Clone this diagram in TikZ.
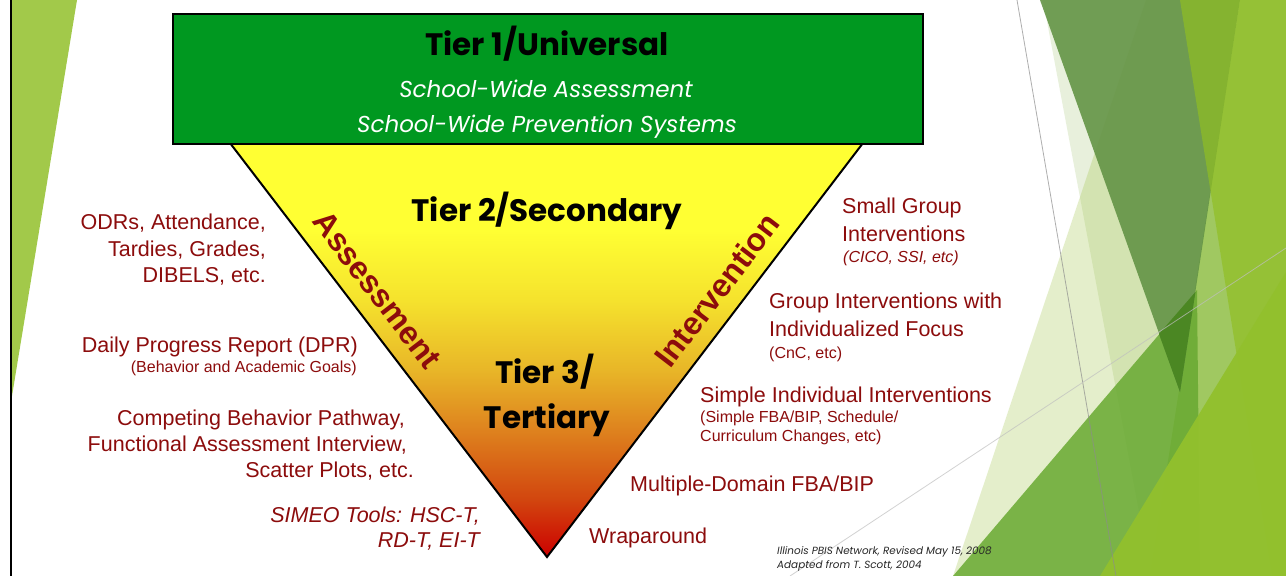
\documentclass[tikz,border=0pt]{standalone}
\usepackage{fontspec}
\setmainfont{Liberation Sans}
\newfontfamily\gothic{Poppins}
\definecolor{labelred}{RGB}{140,12,12}
\definecolor{tiergreen}{RGB}{0,152,32}
\definecolor{slivergreen}{RGB}{162,201,74}
\definecolor{paleA}{RGB}{120,170,50}
\definecolor{paleB}{RGB}{150,190,50}
\definecolor{darkD}{RGB}{100,148,70}
\definecolor{medG}{RGB}{104,169,49}
\definecolor{limeM}{RGB}{148,194,77}
\definecolor{limeN}{RGB}{145,191,34}
\definecolor{limeL}{RGB}{146,192,45}
\definecolor{wedgegreen}{RGB}{75,135,35}
\definecolor{triA}{RGB}{204,0,0}
\definecolor{triB}{RGB}{210,70,15}
\definecolor{triC}{RGB}{222,130,30}
\definecolor{triD}{RGB}{232,182,40}
\definecolor{triE}{RGB}{245,226,45}
\definecolor{triF}{RGB}{255,255,51}
\pgfdeclareverticalshading{tiershade}{100bp}{color(0bp)=(triA); color(25bp)=(triA); color(32bp)=(triB); color(40.3bp)=(triC); color(47.6bp)=(triD); color(56bp)=(triE); color(64.5bp)=(triF); color(75bp)=(triF); color(100bp)=(triF)}
\tikzset{
  lbl/.style={inner sep=0pt, text=labelred, font=\fontsize{21.5}{26}\selectfont},
  lblit/.style={inner sep=0pt, text=labelred, font=\fontsize{21.5}{26}\selectfont\itshape},
  lblsmall/.style={inner sep=0pt, text=labelred, font=\fontsize{16}{19}\selectfont},
  lblsmallit/.style={inner sep=0pt, text=labelred, font=\fontsize{16}{19}\selectfont\itshape},
  tiertitle/.style={inner sep=0pt, text=black, font=\gothic\bfseries\fontsize{31}{36}\selectfont},
  tiersub/.style={inner sep=0pt, text=white, font=\gothic\itshape\fontsize{23}{28}\selectfont},
  sidelabel/.style={inner sep=0pt, text=labelred, font=\bfseries\fontsize{32}{36}\selectfont},
  credit/.style={inner sep=0pt, text=black!85, font=\gothic\itshape\fontsize{10.4}{12}\selectfont},
  thinline/.style={line width=0.8pt},
}
\begin{document}
\begin{tikzpicture}[x=1pt,y=-1pt]
\useasboundingbox (0,0) rectangle (1286,576);
\fill[white] (0,0) rectangle (1286,576);
% left decoration
\fill[slivergreen] (12,0) -- (77,0) -- (12,396) -- cycle;
\draw[line width=2.2pt] (10.8,0) -- (10.8,576);
% right decoration (overlapping translucent facets)
\fill[paleA, opacity=0.17] (1043,0) -- (1286,0) -- (1286,576) -- (1151,576) -- cycle;
\fill[paleB, opacity=0.25] (1146,0) -- (1286,0) -- (1286,576) -- (953,576) -- cycle;
\fill[limeM, opacity=0.8] (1240,0) -- (1286,0) -- (1286,576) -- (1150,576) -- cycle;
\fill[medG, opacity=0.85] (953,576) -- (1197,290) -- (1200,576) -- cycle;
\fill[darkD, opacity=0.9] (1040,0) -- (1240,0) -- (1180,392) -- cycle;
\fill[wedgegreen] (1159,334) -- (1195.4,292) -- (1180,392) -- cycle;
\fill[limeN, opacity=0.68] (1180,0) -- (1286,0) -- (1286,576) -- (1272,576) -- cycle;
\fill[limeL, opacity=0.95] (1100,576) -- (1286,272) -- (1286,576) -- cycle;
\draw[thinline, black!45, opacity=0.7] (1017,0) -- (1116,576);
\draw[thinline, black!25, opacity=0.7] (790,576) -- (1286,248);
% triangle and tier-1 box
\path[shading=tiershade, draw=black, line width=2pt, line join=miter] (230,143) -- (863,143) -- (547,557) -- cycle;
\node[draw=black, line width=2pt, fill=tiergreen, minimum width=750pt, minimum height=130pt, inner sep=0pt, anchor=north west] (box) at (172,13) {};
\node[tiertitle, anchor=base] (t1) at (547,55) {Tier 1/Universal};
\node[tiersub, anchor=base] (t1a) at (546,97) {School-Wide Assessment};
\node[tiersub, anchor=base] (t1b) at (547,132) {School-Wide Prevention Systems};
\node[tiertitle, anchor=base] (t2) at (547,221) {Tier 2/Secondary};
\node[tiertitle, anchor=base] (t3a) at (545,383) {Tier 3/};
\node[tiertitle, anchor=base] (t3b) at (547,428) {Tertiary};
\node[sidelabel, rotate=-52.6] (assess) at (377,290) {Assessment};
\node[sidelabel, rotate=52.6] (interv) at (717,290) {Intervention};
% left labels
\node[lbl, anchor=base east] (l1a) at (266,229) {ODRs, Attendance,};
\node[lbl, anchor=base east] (l1b) at (266,256) {Tardies, Grades,};
\node[lbl, anchor=base east] (l1c) at (266,282) {DIBELS, etc.};
\node[lbl, anchor=base east] (l2a) at (358,352) {Daily Progress Report (DPR)};
\node[lblsmall, anchor=base east] (l2b) at (357,372) {(Behavior and Academic Goals)};
\node[lbl, anchor=base east] (l3a) at (405,425) {Competing Behavior Pathway,};
\node[lbl, anchor=base east] (l3b) at (407,451) {Functional Assessment Interview,};
\node[lbl, anchor=base east] (l3c) at (414,477) {Scatter Plots, etc.};
\node[lblit, anchor=base east] (l4a) at (480,522) {SIMEO Tools: HSC-T,};
\node[lblit, anchor=base east] (l4b) at (480,547) {RD-T, EI-T};
% right labels
\node[lbl, anchor=base west] (r1a) at (842,213) {Small Group};
\node[lbl, anchor=base west] (r1b) at (842,241) {Interventions};
\node[lblsmallit, anchor=base west] (r1c) at (843,262) {(CICO, SSI, etc)};
\node[lbl, anchor=base west] (r2a) at (769,308) {Group Interventions with};
\node[lbl, anchor=base west] (r2b) at (769,336) {Individualized Focus};
\node[lblsmall, anchor=base west] (r2c) at (769,358) {(CnC, etc)};
\node[lbl, anchor=base west] (r3a) at (700,402) {Simple Individual Interventions};
\node[lblsmall, anchor=base west] (r3b) at (700,422) {(Simple FBA/BIP, Schedule/};
\node[lblsmall, anchor=base west] (r3c) at (700,441) {Curriculum Changes, etc)};
\node[lbl, anchor=base west] (r4) at (630,491) {Multiple-Domain FBA/BIP};
\node[lbl, anchor=base west] (r5) at (589,543) {Wraparound};
% credit
\node[credit, anchor=base west] (cr1) at (777,554) {Illinois PBIS Network, Revised May 15, 2008};
\node[credit, anchor=base west] (cr2) at (777,568) {Adapted from T. Scott, 2004};
\end{tikzpicture}
\end{document}
